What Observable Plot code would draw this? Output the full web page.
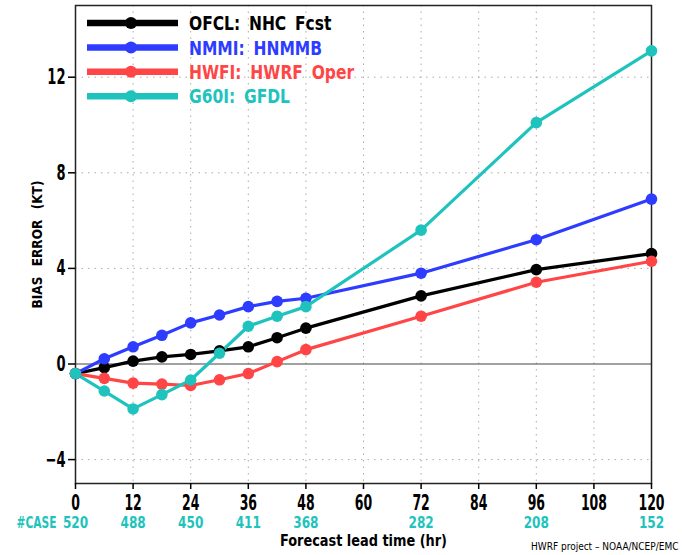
<!DOCTYPE html>
<html><head><meta charset="utf-8">
<script src="https://cdn.jsdelivr.net/npm/d3@7"></script>
<script src="https://cdn.jsdelivr.net/npm/@observablehq/plot@0.6"></script>
<style>
body{margin:0;background:#fff;}
#wrap{position:relative;width:682px;height:555px;}
#legend{position:absolute;left:0;top:0;}
</style></head>
<body><div id="wrap"></div>
<script>
const hours = [0,6,12,18,24,30,36,42,48,72,96,120];
const ofcl = [-0.4,-0.15,0.12,0.3,0.4,0.55,0.72,1.1,1.5,2.85,3.95,4.62];
const nmmi = [-0.4,0.22,0.72,1.2,1.72,2.05,2.4,2.62,2.75,3.8,5.2,6.9];
const hwfi = [-0.4,-0.6,-0.8,-0.84,-0.9,-0.66,-0.4,0.1,0.6,2.0,3.42,4.3];
const g60i = [-0.4,-1.13,-1.88,-1.28,-0.67,0.45,1.58,2.0,2.4,5.6,10.1,13.1];
const seriesNames = ["OFCL: NHC Fcst","NMMI: HNMMB","HWFI: HWRF Oper","G60I: GFDL"];
const seriesColors = ["#000000","#2e3cff","#ff4545","#1fc3bd"];
const seriesValues = [ofcl, nmmi, hwfi, g60i];
const xTicks = [0,12,24,36,48,60,72,84,96,108,120];
const yTicks = [-4,0,4,8,12];
const caseHours = [0,12,24,36,48,72,96,120];
const caseCounts = ["520","488","450","411","368","282","208","152"];

const rows = [];
seriesValues.forEach((vals,i)=>vals.forEach((v,j)=>rows.push({series:seriesNames[i],hour:hours[j],bias:v})));

const font = "'DejaVu Sans Condensed','DejaVu Sans',sans-serif";
const cyan = "#1fc3bd";

const chart = Plot.plot({
  width:682, height:555,
  marginLeft:75, marginRight:31, marginTop:5, marginBottom:72,
  style:{fontFamily:font, background:"#fff", overflow:"visible"},
  x:{domain:[0,120], label:null},
  y:{domain:[-5,15], label:null},
  color:{domain:seriesNames, range:seriesColors},
  marks:[
    Plot.gridX(xTicks.slice(1,-1),{stroke:"#aaa",strokeOpacity:1,strokeDasharray:"1.5,5"}),
    Plot.gridY(yTicks.filter(d=>d!==0),{stroke:"#aaa",strokeOpacity:1,strokeDasharray:"1.5,5"}),
    Plot.ruleY([0],{stroke:"#444",strokeWidth:1.2}),
    Plot.frame({stroke:"#222",strokeWidth:1.5}),
    Plot.axisY(yTicks,{tickSize:7,tickPadding:3,fontSize:22,fontWeight:"bold",label:null,stroke:"#000",strokeWidth:1.5}),
    Plot.axisX(xTicks,{tickSize:6,tickPadding:6,fontSize:21,fontWeight:"bold",label:null,stroke:"#000",strokeWidth:1.5}),
    Plot.line(rows,{x:"hour",y:"bias",z:"series",stroke:"series",strokeWidth:3.2}),
    Plot.dot(rows,{x:"hour",y:"bias",fill:"series",r:5.8}),
    Plot.text(caseHours,{x:d=>d,text:(d,i)=>caseCounts[i],frameAnchor:"bottom",dy:44,fill:cyan,fontSize:16,fontWeight:"bold"}),
    Plot.text(["#CASE"],{x:()=>0,frameAnchor:"bottom",dy:44,dx:-19,textAnchor:"end",fill:cyan,fontSize:16,fontWeight:"bold"}),
    Plot.text(["Forecast lead time (hr)"],{frameAnchor:"bottom",dy:62,fontSize:16,fontWeight:"bold"}),
    Plot.text(["BIAS ERROR (KT)"],{frameAnchor:"left",dx:-38,rotate:-90,textAnchor:"middle",fontSize:13.5,fontWeight:"bold"}),
    Plot.text(["HWRF project \u2013 NOAA/NCEP/EMC"],{frameAnchor:"bottom-right",dy:66,dx:27,textAnchor:"end",fontSize:10})
  ]
});
const wrap = document.getElementById("wrap");
wrap.appendChild(chart);

function setLen(el, len, adj){
  el.setAttribute("textLength", len);
  el.setAttribute("lengthAdjust", adj || "spacingAndGlyphs");
}
d3.select(chart).selectAll("text").each(function(){
  const txt = this.textContent.trim();
  const g = this.closest("g");
  const fill = (g && g.getAttribute("fill")) || this.getAttribute("fill") || "";
  const L = this.getComputedTextLength();
  if (fill.toLowerCase() === cyan) {
    setLen(this, L * (txt === "#CASE" ? 0.74 : 0.84));
  } else if (/^[\u2212\-]?\d+$/.test(txt)) {
    setLen(this, L * 0.66);
  } else if (txt === "BIAS ERROR (KT)") {
    this.style.wordSpacing = "6px";
  } else if (txt === "Forecast lead time (hr)") {
    setLen(this, 167);
  }
});

// Legend overlay
const leg = d3.select(wrap).append("svg").attr("id","legend").attr("width",400).attr("height",110);
seriesNames.forEach((name,i)=>{
  const g = leg.append("g").attr("transform",`translate(0,${23+i*24.4})`);
  g.append("line").attr("x1",87).attr("x2",178).attr("stroke",seriesColors[i]).attr("stroke-width",6.5);
  g.append("circle").attr("cx",131).attr("r",6).attr("fill",seriesColors[i]);
  const t = g.append("text").attr("x",189).attr("dy","0.36em").attr("fill",seriesColors[i])
    .style("font-family",font).style("font-weight","bold").style("font-size","20px")
    .style("word-spacing","4px").text(name);
  const L = t.node().getComputedTextLength();
  t.attr("textLength",L*0.86).attr("lengthAdjust","spacingAndGlyphs");
});
</script></body></html>
